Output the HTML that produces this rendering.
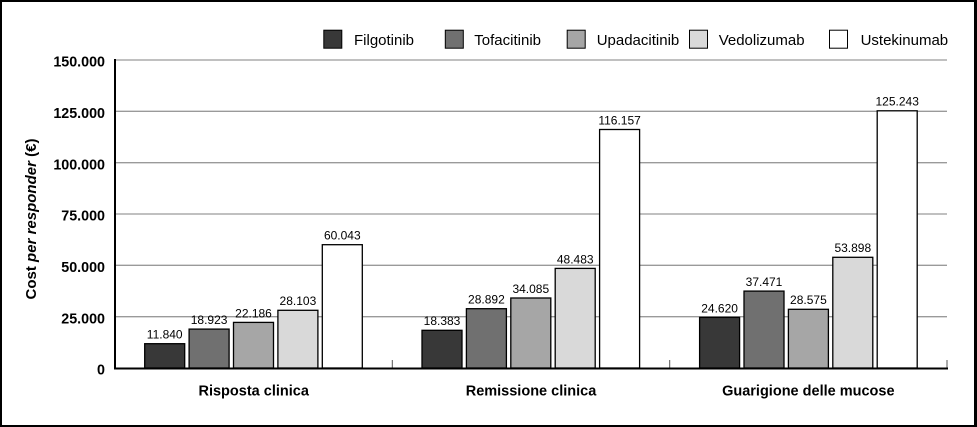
<!DOCTYPE html>
<html>
<head>
<meta charset="utf-8">
<style>
html,body{margin:0;padding:0;background:#fff;}
svg{display:block;}
text{font-family:"Liberation Sans",Arial,sans-serif;fill:#000;}
.yt{font-size:14.3px;font-weight:bold;text-anchor:end;}
.vl{font-size:12px;text-anchor:middle;}
.cl{font-size:14.5px;font-weight:bold;text-anchor:middle;}
.lg{font-size:15px;}
</style>
</head>
<body>
<svg width="977" height="427" viewBox="0 0 977 427" xmlns="http://www.w3.org/2000/svg">
<rect x="0" y="0" width="977" height="427" fill="#fff"/>
<!-- frame -->
<rect x="0" y="0" width="977" height="2" fill="#000"/>
<rect x="0" y="0" width="2" height="427" fill="#000"/>
<rect x="974" y="0" width="3" height="427" fill="#000"/>
<rect x="0" y="425" width="977" height="2" fill="#000"/>

<!-- gridlines -->
<g stroke="#9a9a9a" stroke-width="1.3">
<line x1="115" y1="60" x2="947" y2="60"/>
<line x1="115" y1="111.3" x2="947" y2="111.3"/>
<line x1="115" y1="162.7" x2="947" y2="162.7"/>
<line x1="115" y1="214" x2="947" y2="214"/>
<line x1="115" y1="265.3" x2="947" y2="265.3"/>
<line x1="115" y1="316.7" x2="947" y2="316.7"/>
</g>

<!-- y tick labels -->
<text class="yt" x="105" y="66.7">150.000</text>
<text class="yt" x="105" y="118">125.000</text>
<text class="yt" x="105" y="169.4">100.000</text>
<text class="yt" x="105" y="220.7">75.000</text>
<text class="yt" x="105" y="272">50.000</text>
<text class="yt" x="105" y="323.4">25.000</text>
<text class="yt" x="105" y="374.7">0</text>

<!-- y axis title -->
<text transform="translate(36,219) rotate(-90)" text-anchor="middle" style="font-size:15px;font-weight:bold;">Cost <tspan font-style="italic">per responder</tspan> (€)</text>

<!-- bars -->
<g stroke="#000" stroke-width="1.3">
<!-- group 1 -->
<rect x="144.7" y="343.7" width="40" height="24.3" fill="#383838"/>
<rect x="189.1" y="329.1" width="40" height="38.9" fill="#707070"/>
<rect x="233.5" y="322.4" width="40" height="45.6" fill="#a6a6a6"/>
<rect x="277.9" y="310.3" width="40" height="57.7" fill="#d9d9d9"/>
<rect x="322.3" y="244.7" width="40" height="123.3" fill="#ffffff"/>
<!-- group 2 -->
<rect x="422.0" y="330.3" width="40" height="37.7" fill="#383838"/>
<rect x="466.4" y="308.7" width="40" height="59.3" fill="#707070"/>
<rect x="510.8" y="298.0" width="40" height="70.0" fill="#a6a6a6"/>
<rect x="555.2" y="268.4" width="40" height="99.6" fill="#d9d9d9"/>
<rect x="599.6" y="129.5" width="40" height="238.5" fill="#ffffff"/>
<!-- group 3 -->
<rect x="699.6" y="317.4" width="40" height="50.6" fill="#383838"/>
<rect x="744.0" y="291.1" width="40" height="76.9" fill="#707070"/>
<rect x="788.4" y="309.3" width="40" height="58.7" fill="#a6a6a6"/>
<rect x="832.8" y="257.3" width="40" height="110.7" fill="#d9d9d9"/>
<rect x="877.2" y="110.8" width="40" height="257.2" fill="#ffffff"/>
</g>

<!-- value labels -->
<text class="vl" x="164.7" y="338.5">11.840</text>
<text class="vl" x="209.1" y="324">18.923</text>
<text class="vl" x="253.5" y="317.3">22.186</text>
<text class="vl" x="297.9" y="305.2">28.103</text>
<text class="vl" x="342.3" y="239.6">60.043</text>

<text class="vl" x="442.0" y="325.2">18.383</text>
<text class="vl" x="486.4" y="303.6">28.892</text>
<text class="vl" x="530.8" y="292.9">34.085</text>
<text class="vl" x="575.2" y="263.3">48.483</text>
<text class="vl" x="619.6" y="124.4">116.157</text>

<text class="vl" x="719.6" y="312.3">24.620</text>
<text class="vl" x="764.0" y="286">37.471</text>
<text class="vl" x="808.4" y="304.2">28.575</text>
<text class="vl" x="852.8" y="252.2">53.898</text>
<text class="vl" x="897.2" y="105.7">125.243</text>

<!-- category ticks -->
<g stroke="#555" stroke-width="1">
<line x1="392.3" y1="360" x2="392.3" y2="368"/>
<line x1="669.7" y1="360" x2="669.7" y2="368"/>
<line x1="947" y1="360" x2="947" y2="368"/>
</g>

<!-- axes -->
<line x1="115" y1="59" x2="115" y2="369.5" stroke="#000" stroke-width="2"/>
<line x1="114" y1="368.5" x2="948" y2="368.5" stroke="#000" stroke-width="2"/>

<!-- category labels -->
<text class="cl" x="253.7" y="395.7">Risposta clinica</text>
<text class="cl" x="531" y="395.7">Remissione clinica</text>
<text class="cl" x="808.3" y="395.7">Guarigione delle mucose</text>

<!-- legend -->
<g stroke="#000" stroke-width="1">
<rect x="323.8" y="30.2" width="18" height="18" fill="#383838"/>
<rect x="445.3" y="30.2" width="18" height="18" fill="#707070"/>
<rect x="567.2" y="30.2" width="18" height="18" fill="#a6a6a6"/>
<rect x="689.5" y="30.2" width="18" height="18" fill="#d9d9d9"/>
<rect x="829.5" y="30.2" width="18" height="18" fill="#ffffff"/>
</g>
<text class="lg" x="354" y="44.8">Filgotinib</text>
<text class="lg" x="474.3" y="44.8">Tofacitinib</text>
<text class="lg" x="596.7" y="44.8">Upadacitinib</text>
<text class="lg" x="718.7" y="44.8">Vedolizumab</text>
<text class="lg" x="860.6" y="44.8">Ustekinumab</text>
</svg>
</body>
</html>
